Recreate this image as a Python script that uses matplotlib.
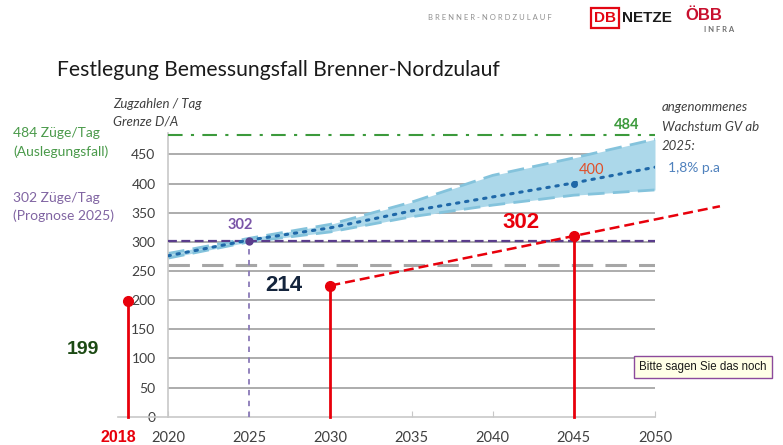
import matplotlib.pyplot as plt
from matplotlib.transforms import offset_copy
from matplotlib.patches import Rectangle

# Data
years_band = [2020, 2025, 2030, 2035, 2040, 2045, 2050]
trend_mid = [276, 303, 324, 353, 377, 401, 428]
trend_upper = [280, 306, 330, 368, 414, 444, 476]
trend_lower = [272, 300, 317, 343, 363, 380, 389]

stem_years = [2018, 2030, 2045]
stem_values = [199, 225, 310]

red_line_years = [2030, 2045, 2054]
red_line_values = [225, 310, 361]

grenze_484 = 484
prognose_302 = 302
gray_level = 260
prognose_year = 2025
point_400 = (2045, 400)

x_ticks = [2020, 2025, 2030, 2035, 2040, 2045, 2050]
y_ticks = [0, 50, 100, 150, 200, 250, 300, 350, 400, 450]

plt.rcParams['font.family'] = ['Lato', 'DejaVu Sans']

W, H = 783, 445
fig = plt.figure(figsize=(W / 100, H / 100), dpi=100)
fig.patch.set_facecolor('white')


def fx(px):
    return px / W


def fy(py):
    return 1 - py / H


ax = fig.add_axes([fx(168), fy(416.7), fx(655) - fx(168), fy(133.4) - fy(416.7)])
ax.set_xlim(2020, 2050)
ax.set_ylim(0, 486)
for s in ['top', 'right']:
    ax.spines[s].set_visible(False)
ax.spines['left'].set_color('#c8c8c8')
ax.spines['bottom'].set_color('#c8c8c8')
ax.spines['left'].set_linewidth(1.2)
ax.spines['bottom'].set_linewidth(1.2)
ax.set_xticks(x_ticks)
ax.set_yticks(y_ticks)
ax.tick_params(axis='x', colors='#c8c8c8', labelcolor='#404040', labelsize=10.5,
               length=4, direction='in', pad=10)
ax.tick_params(axis='y', length=0, labelcolor='#404040', labelsize=10, pad=9)

# grid lines
for v in y_ticks[1:]:
    ax.hlines(v, 2020, 2050, color='#a6a6a6', lw=1.3, zorder=1)

# extend baseline to the left (2018 stem)
ax.plot([2016.9, 2020], [0, 0], color='#c8c8c8', lw=1.2, clip_on=False)

# reference lines
ax.hlines(gray_level, 2020, 2050, color='#a6a6a6', lw=2.2, linestyles=(0, (7, 4)), zorder=2)
ax.hlines(prognose_302, 2020, 2050, color='#5a3c8c', lw=1.6, linestyles=(0, (4, 2)), zorder=3)
ax.plot([2020, 2050], [grenze_484, grenze_484], color='#3c9a3c', lw=1.5,
        ls=(0, (7, 4, 1.5, 4)), clip_on=False, zorder=3)
ax.vlines(prognose_year, 0, prognose_302, color='#8a7ab8', lw=1.3,
          linestyles=(0, (3, 3)), zorder=3)

# growth band
ax.fill_between(years_band, trend_lower, trend_upper, color='#acd8ea', lw=0, zorder=2)
ax.plot(years_band, trend_upper, color='#84c3dc', lw=2, ls=(0, (6, 3)), zorder=2)
ax.plot(years_band, trend_lower, color='#84c3dc', lw=2, ls=(0, (6, 3)), zorder=2)
ax.plot(years_band, trend_mid, color='#1f68a8', lw=2.2, ls=(0, (0.8, 2.2)),
        dash_capstyle='round', zorder=4)
ax.plot([prognose_year], [prognose_302], 'o', color='#5a3c8c', ms=5, zorder=5)
ax.plot([point_400[0]], [point_400[1]], 'o', color='#1f68a8', ms=4, zorder=5)

# red stems
shift = offset_copy(ax.transData, fig=fig, x=-8, y=0, units='dots')
for yr, val in zip(stem_years, stem_values):
    tr = shift if yr < 2020 else ax.transData
    ax.plot([yr, yr], [0, val], color='#e8000b', lw=2, transform=tr, clip_on=False, zorder=6)
    ax.plot([yr], [val], 'o', color='#e8000b', ms=7, transform=tr, clip_on=False, zorder=7)
ax.plot(red_line_years, red_line_values, color='#e8000b', lw=1.8, ls=(0, (4, 2)),
        clip_on=False, zorder=6)

# annotations in the chart
ax.annotate('302', (prognose_year, prognose_302), xytext=(-9, 16), textcoords='offset pixels',
            ha='center', va='center', color='#7a55a8', fontsize=10.5, fontweight='bold')
ax.annotate('484', (2050, grenze_484), xytext=(-28, 10), textcoords='offset pixels',
            ha='center', va='center', color='#3c9a3c', fontsize=10.5, fontweight='bold')
ax.annotate('400', point_400, xytext=(18, 14), textcoords='offset pixels',
            ha='center', va='center', color='#e0502a', fontsize=10.5)
ax.annotate('302', (stem_years[2], stem_values[2]), xytext=(-53, 13), textcoords='offset pixels',
            ha='center', va='center', color='#e8000b', fontsize=16, fontweight='bold',
            family='Liberation Sans')
ax.annotate('214', (stem_years[1], stem_values[1]), xytext=(-47, 0), textcoords='offset pixels',
            ha='center', va='center', color='#14243c', fontsize=16, fontweight='bold',
            family='Liberation Sans')

# header
fig.text(fx(428), fy(17), 'B R E N N E R - N O R D Z U L A U F', fontsize=5.5, color='#909090',
         ha='left', va='center')
fig.patches.append(Rectangle((fx(591), fy(28)), fx(28), fy(8) - fy(28), transform=fig.transFigure,
                             fill=False, edgecolor='#e30613', lw=1.6))
fig.text(fx(605), fy(18), 'DB', fontsize=11, color='#e30613', fontweight='bold',
         ha='center', va='center', family='Liberation Sans')
fig.text(fx(622), fy(18), 'NETZE', fontsize=11, color='#1a1a1a', fontweight='bold',
         ha='left', va='center', family='Liberation Sans')
fig.text(fx(685), fy(16), 'ÖBB', fontsize=12, color='#c8102e', fontweight='bold',
         ha='left', va='center', family='Liberation Sans')
fig.text(fx(704), fy(30), 'I N F R A', fontsize=5.5, color='#707070', fontweight='bold',
         ha='left', va='center')

fig.text(fx(57), fy(70), 'Festlegung Bemessungsfall Brenner-Nordzulauf', fontsize=15.2,
         color='#1a1a1a', ha='left', va='center')

fig.text(fx(113), fy(104), 'Zugzahlen / Tag', fontsize=9.5, color='#404040', style='italic',
         ha='left', va='center')
fig.text(fx(113), fy(122), 'Grenze D/A', fontsize=9.5, color='#404040', style='italic',
         ha='left', va='center')

fig.text(fx(13), fy(133), '484 Züge/Tag', fontsize=10, color='#4a9a4a', ha='left', va='center')
fig.text(fx(13), fy(152), '(Auslegungsfall)', fontsize=10, color='#4a9a4a', ha='left', va='center')
fig.text(fx(13), fy(198), '302 Züge/Tag', fontsize=10, color='#8064a2', ha='left', va='center')
fig.text(fx(13), fy(216), '(Prognose 2025)', fontsize=10, color='#8064a2', ha='left', va='center')

fig.text(fx(662), fy(107), 'angenommenes', fontsize=9.5, color='#404040', style='italic',
         ha='left', va='center')
fig.text(fx(662), fy(127), 'Wachstum GV ab', fontsize=9.5, color='#404040', style='italic',
         ha='left', va='center')
fig.text(fx(662), fy(146), '2025:', fontsize=9.5, color='#404040', style='italic',
         ha='left', va='center')
fig.text(fx(668), fy(168), '1,8% p.a', fontsize=10, color='#4f81bd', ha='left', va='center')

fig.text(fx(83), fy(349), '199', fontsize=14, color='#1c4a14', fontweight='bold',
         ha='center', va='center', family='Liberation Sans')
fig.text(fx(118), fy(438), '2018', fontsize=11.5, color='#e8000b', fontweight='bold',
         ha='center', va='center', family='Liberation Sans')

fig.text(fx(639), fy(367), 'Bitte sagen Sie das noch', fontsize=8.3, color='#1a1a1a',
         ha='left', va='center', family='Liberation Sans',
         bbox=dict(boxstyle='square,pad=0.45', facecolor='#ffffe6', edgecolor='#8c4a9c', lw=1))

fig.savefig('out.png', dpi=100)
